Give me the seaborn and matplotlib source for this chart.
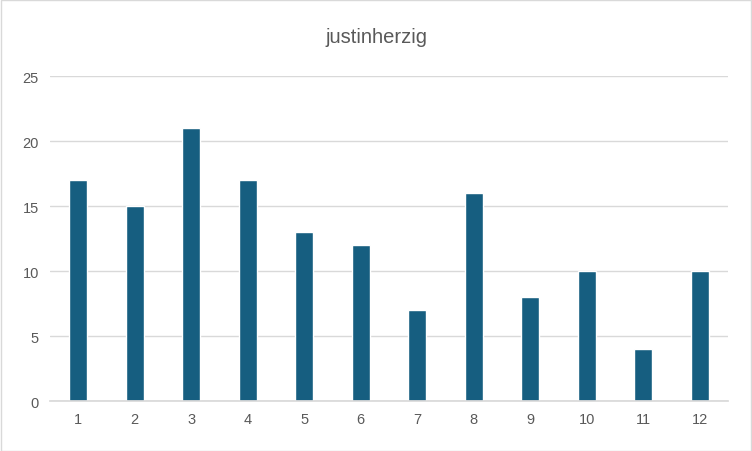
import matplotlib
matplotlib.use("Agg")
import matplotlib.pyplot as plt
import seaborn as sns
import pandas as pd

categories = [str(i) for i in range(1, 13)]
values = [17, 15, 21, 17, 13, 12, 7, 16, 8, 10, 4, 10]
title = "justinherzig"

sns.set_theme(style="white")
plt.rcParams['font.family'] = ['Liberation Sans', 'DejaVu Sans']

df = pd.DataFrame({"cat": categories, "val": values})
fig = plt.figure(figsize=(7.52, 4.52), dpi=100)
ax = fig.add_axes([0.0665, 0.1106, 0.9015, 0.719])
sns.barplot(data=df, x="cat", y="val", color="#165E80", saturation=1, width=0.32, ax=ax)
ax.set_ylim(0, 25)
ax.set_yticks(range(0, 26, 5))
ax.yaxis.grid(True, color="#D9D9D9", linewidth=1)
ax.set_axisbelow(True)
for s in ["top", "right", "left"]:
    ax.spines[s].set_visible(False)
ax.spines["bottom"].set_color("#D9D9D9")
ax.tick_params(axis="both", length=0, labelsize=10.5, colors="#595959", pad=8)
ax.set_xlabel("")
ax.set_ylabel("")
fig.text(0.5, 0.918, title, ha="center", va="center", fontsize=14.5, color="#595959")
fig.patches.append(plt.Rectangle((0.001, 0.001), 0.998, 0.997, transform=fig.transFigure,
                                 fill=False, edgecolor="#D9D9D9", linewidth=1))
fig.savefig("out.png", dpi=100)
